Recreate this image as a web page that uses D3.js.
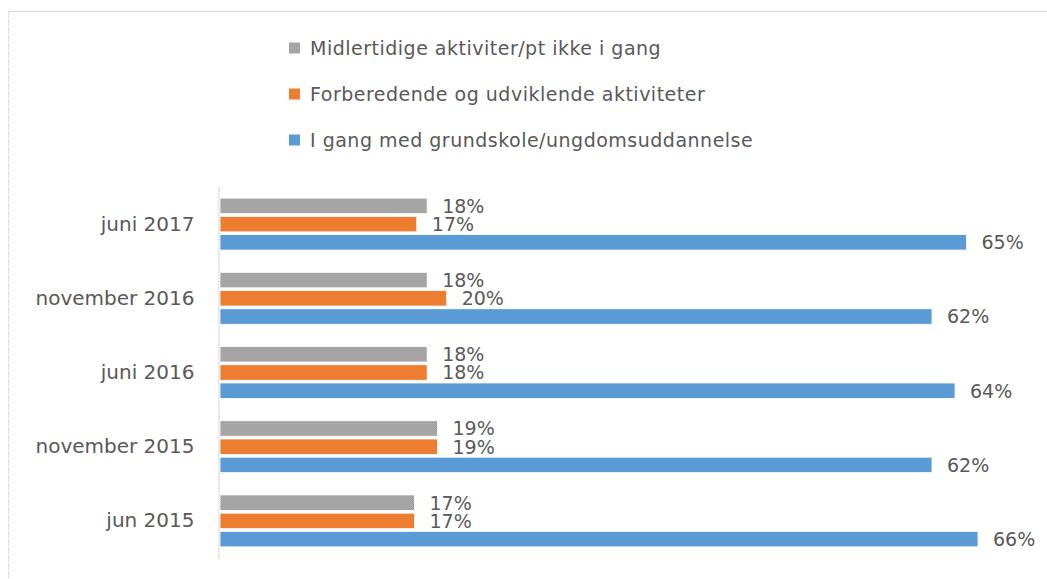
<!DOCTYPE html>
<html>
<head>
<meta charset="utf-8">
<script src="https://cdn.jsdelivr.net/npm/d3@7"></script>
<style>
  body { margin: 0; background: #fff; }
  text { font-family: "DejaVu Sans", sans-serif; fill: #595959; }
</style>
</head>
<body>
<svg width="1047" height="579"></svg>
<script>
// data
const perioder = ["juni 2017", "november 2016", "juni 2016", "november 2015", "jun 2015"];
const serier = ["Midlertidige aktiviter/pt ikke i gang", "Forberedende og udviklende aktiviteter", "I gang med grundskole/ungdomsuddannelse"];
const midlertidige = [0.181, 0.181, 0.181, 0.19, 0.17];
const forberedende = [0.172, 0.198, 0.181, 0.19, 0.17];
const igang = [0.65, 0.62, 0.64, 0.62, 0.66];

const svg = d3.select("svg");
const farver = ["url(#prik)", "#ED7D31", "#5B9BD5"];
const legendFarver = ["#a6a6a6", "#ED7D31", "#5B9BD5"];

// pattern til graa bjaelker
const defs = svg.append("defs");
const p = defs.append("pattern").attr("id", "prik")
  .attr("width", 2).attr("height", 2).attr("patternUnits", "userSpaceOnUse");
p.append("rect").attr("width", 2).attr("height", 2).attr("fill", "#b0b0b0");
p.append("rect").attr("width", 1).attr("height", 1).attr("fill", "#999999");
p.append("rect").attr("x", 1).attr("y", 1).attr("width", 1).attr("height", 1).attr("fill", "#999999");

// ramme
svg.append("line").attr("x1", 8).attr("x2", 1047).attr("y1", 11.5).attr("y2", 11.5)
  .attr("stroke", "#d9d9d9");
svg.append("line").attr("x1", 8.5).attr("x2", 8.5).attr("y1", 11).attr("y2", 579)
  .attr("stroke", "#d9d9d9").attr("stroke-dasharray", "3,1");

const data = perioder.map((d, i) => ({
  periode: d,
  vaerdier: [midlertidige[i], forberedende[i], igang[i]]
}));

const x = d3.scaleLinear().domain([0, 0.7]).range([219, 1024]);
const y = d3.scaleBand().domain(perioder).range([187, 558]).paddingInner(0.3).paddingOuter(0.15);
const y1 = d3.scaleBand().domain([0, 1, 2]).range([0, y.bandwidth()]).paddingInner(0.15);

// kategori-akse
const yAxis = d3.axisLeft(y).tickSize(0).tickPadding(24);
const ag = svg.append("g").attr("transform", "translate(218.5,0)").call(yAxis);
ag.select(".domain").attr("stroke", "#bfbfbf").attr("stroke-dasharray", "2,1");
ag.selectAll("text").style("font-size", "20px").attr("fill", "#595959");

const grupper = svg.selectAll(".gruppe").data(data).enter().append("g")
  .attr("transform", d => `translate(0,${y(d.periode)})`);

grupper.selectAll("rect").data(d => d.vaerdier).enter().append("rect")
  .attr("x", x(0) + 1)
  .attr("y", (d, i) => y1(i))
  .attr("width", d => x(d) - x(0) - 1)
  .attr("height", y1.bandwidth())
  .attr("fill", (d, i) => farver[i])
  .attr("stroke", "#fff").attr("stroke-width", 0.8);

grupper.selectAll(".lbl").data(d => d.vaerdier).enter().append("text")
  .attr("x", d => x(d) + 15)
  .attr("y", (d, i) => y1(i) + y1.bandwidth() / 2)
  .attr("dy", "0.36em")
  .style("font-size", "19px")
  .text(d => Math.round(d * 100) + "%");

// legend
const legend = svg.append("g");
const ly = d3.scalePoint().domain(serier).range([48, 140]);
legend.selectAll("rect").data(serier).enter().append("rect")
  .attr("x", 289).attr("y", d => ly(d) - 5.5)
  .attr("width", 11).attr("height", 11)
  .attr("fill", (d, i) => legendFarver[i]);
legend.selectAll("text").data(serier).enter().append("text")
  .attr("x", 310).attr("y", d => ly(d)).attr("dy", "0.36em")
  .style("font-size", "19px")
  .style("letter-spacing", "0.5px")
  .text(d => d);
</script>
</body>
</html>
